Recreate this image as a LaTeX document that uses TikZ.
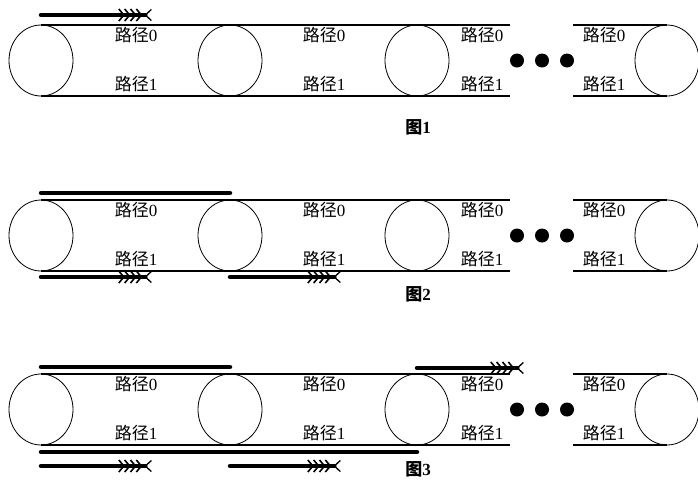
\documentclass[tikz,border=0pt]{standalone}
\usepackage{fontspec}
\setmainfont{Liberation Serif}
\newfontfamily\cjk{Noto Sans CJK SC}
\usetikzlibrary{arrows.meta,shapes.geometric}

\tikzset{
  wheel/.style={draw,ellipse,line width=0.8pt,minimum width=64pt,minimum height=71pt,inner sep=0pt,outer sep=0pt},
  belt/.style={line width=1.3pt},
  lbl/.style={font=\fontsize{17}{18}\selectfont,inner sep=0pt},
  figcap/.style={font=\fontsize{17}{18}\selectfont\bfseries,inner sep=0pt},
  bar/.style={line width=4.5pt,line cap=round},
  fletch/.tip={Straight Barb[length=5pt,width=12pt,line width=1.6pt,sep=-1pt]
    Straight Barb[length=5pt,width=12pt,line width=1.6pt,sep=-1pt]
    Straight Barb[length=5pt,width=12pt,line width=1.6pt,sep=-1pt]
    Straight Barb[length=5pt,width=12pt,line width=1.6pt,sep=2pt]
    Straight Barb[reversed,length=6pt,width=11pt,line width=1.3pt]},
  run/.style={line width=4.5pt,line cap=round,-fletch},
}

\begin{document}
\begin{tikzpicture}[x=1pt,y=-1pt]
  \useasboundingbox (0,0) rectangle (698,480);
  % three chains of wheels and belts
  \foreach \p/\dy/\cy in {1/0/127,2/175/119,3/349/120}{
    \begin{scope}[shift={(0,\dy)}]
      \node[wheel] (w\p-1) at (41,60.5) {};
      \node[wheel] (w\p-2) at (230,60.5) {};
      \node[wheel] (w\p-3) at (417,60.5) {};
      \node[wheel] (w\p-4) at (667,60.5) {};
      \coordinate (e\p-t) at (510,25);
      \coordinate (e\p-b) at (510,96);
      \coordinate (s\p-t) at (573,25);
      \coordinate (s\p-b) at (573,96);
      \draw[belt] (w\p-1.north) -- (e\p-t);
      \draw[belt] (w\p-1.south) -- (e\p-b);
      \draw[belt] (s\p-t) -- (w\p-4.north);
      \draw[belt] (s\p-b) -- (w\p-4.south);
      \foreach \x [count=\i] in {136,324,482,604}{
        \node[lbl] (a\p-\i) at (\x,35) {{\cjk 路径}0};
        \node[lbl] (b\p-\i) at (\x,84) {{\cjk 路径}1};
      }
      \foreach \x in {517,542,567}
        \fill (\x,60.5) circle (7pt);
      \node[figcap] (cap\p) at (418,\cy) {{\cjk\bfseries 图}\p};
    \end{scope}
  }
  % runs on chain 1
  \coordinate (r1) at (152,15);
  \draw[run] (w1-1 |- r1) -- (r1);
  % runs on chain 2
  \coordinate (t2) at (0,193);
  \draw[bar] (w2-1 |- t2) -- (w2-2 |- t2);
  \coordinate (r2a) at (152,277);
  \coordinate (r2b) at (341,277);
  \draw[run] (w2-1 |- r2a) -- (r2a);
  \draw[run] (w2-2 |- r2b) -- (r2b);
  % runs on chain 3
  \coordinate (t3) at (0,367);
  \draw[bar] (w3-1 |- t3) -- (w3-2 |- t3);
  \coordinate (r3t) at (524,368);
  \draw[run] (w3-3 |- r3t) -- (r3t);
  \coordinate (u3) at (0,452);
  \draw[bar] (w3-1 |- u3) -- (w3-3 |- u3);
  \coordinate (r3a) at (152,466);
  \coordinate (r3b) at (341,466);
  \draw[run] (w3-1 |- r3a) -- (r3a);
  \draw[run] (w3-2 |- r3b) -- (r3b);
\end{tikzpicture}
\end{document}
